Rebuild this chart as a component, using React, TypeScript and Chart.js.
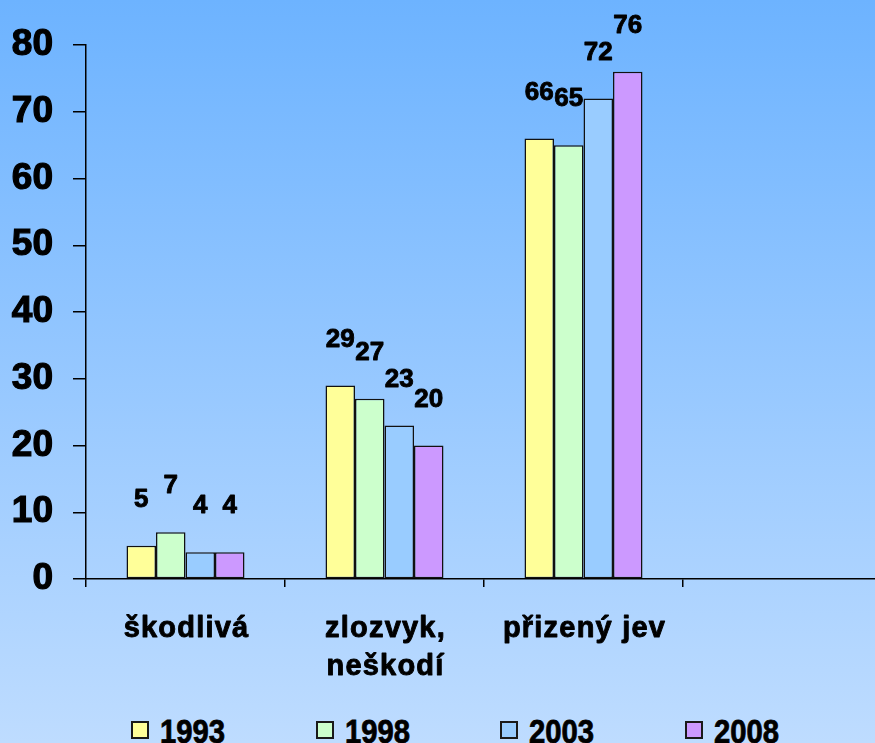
import React, { useEffect, useRef } from "react";
import { Chart, registerables } from "chart.js";

Chart.register(...registerables);

const categories: string[][] = [["škodlivá"], ["zlozvyk,", "neškodí"], ["přizený jev"], [""]];
const seriesNames = ["1993", "1998", "2003", "2008"];
const values1993 = [5, 29, 66, null];
const values1998 = [7, 27, 65, null];
const values2003 = [4, 23, 72, null];
const values2008 = [4, 20, 76, null];
const seriesColors = ["#ffff99", "#ccffcc", "#99ccff", "#cc99ff"];
const yTicks = [0, 10, 20, 30, 40, 50, 60, 70, 80];

const FONT = "'Liberation Sans', Arial, Helvetica, sans-serif";

const dataLabelPlugin = {
  id: "dataLabels",
  afterDatasetsDraw(chart: any) {
    const ctx = chart.ctx;
    ctx.save();
    ctx.font = `bold 26px ${FONT}`;
    ctx.fillStyle = "#000";
    ctx.strokeStyle = "#000";
    ctx.lineWidth = 0.9;
    ctx.lineJoin = "round";
    ctx.textAlign = "center";
    ctx.textBaseline = "middle";
    chart.data.datasets.forEach((ds: any, di: number) => {
      const meta = chart.getDatasetMeta(di);
      meta.data.forEach((el: any, i: number) => {
        const v = ds.data[i];
        if (v === null || v === undefined) return;
        ctx.strokeText(String(v), el.x, el.y - 46);
        ctx.fillText(String(v), el.x, el.y - 46);
      });
    });
    ctx.restore();
  },
};

const categoryLabelPlugin = {
  id: "categoryLabels",
  afterDraw(chart: any) {
    const ctx = chart.ctx;
    const xs = chart.scales.x;
    ctx.save();
    ctx.font = `bold 29px ${FONT}`;
    (ctx as any).letterSpacing = "1.2px";
    ctx.fillStyle = "#000";
    ctx.strokeStyle = "#000";
    ctx.lineWidth = 0.9;
    ctx.lineJoin = "round";
    ctx.textAlign = "center";
    ctx.textBaseline = "alphabetic";
    categories.forEach((lines, i) => {
      const x = xs.getPixelForValue(i) + 1;
      lines.forEach((line, j) => {
        const y = xs.top + 58 + j * 38;
        ctx.strokeText(line, x, y);
        ctx.fillText(line, x, y);
      });
    });
    ctx.restore();
  },
};

export default function App() {
  const canvasRef = useRef<HTMLCanvasElement | null>(null);

  useEffect(() => {
    if (!canvasRef.current) return;
    const series = [values1993, values1998, values2003, values2008];
    const chart = new Chart(canvasRef.current, {
      type: "bar",
      data: {
        labels: categories.map((c) => c.join(" ")),
        datasets: series.map((vals, i) => ({
          label: seriesNames[i],
          data: vals,
          backgroundColor: seriesColors[i],
          borderColor: "#111",
          borderWidth: 1.5,
          borderSkipped: false,
          categoryPercentage: 0.593,
          barPercentage: 1,
        })),
      },
      options: {
        responsive: false,
        animation: false,
        events: [],
        layout: { padding: { top: 45, right: 8, left: 0, bottom: 0 } },
        plugins: {
          legend: { display: false },
          tooltip: { enabled: false },
        },
        scales: {
          x: {
            grid: {
              display: true,
              drawOnChartArea: false,
              drawTicks: true,
              tickLength: 8,
              color: "#000",
              lineWidth: 1.5,
              offset: true,
            },
            border: { display: true, color: "#000", width: 1.5 },
            ticks: { display: false },
            afterFit(scale: any) {
              scale.height = 121;
            },
          },
          y: {
            min: 0,
            max: 80,
            afterBuildTicks(scale: any) {
              scale.ticks = yTicks.map((v) => ({ value: v }));
            },
            grid: {
              display: true,
              drawOnChartArea: false,
              drawTicks: true,
              tickLength: 13,
              color: "#000",
              lineWidth: 1.5,
            },
            border: { display: true, color: "#000", width: 1.5 },
            ticks: {
              padding: 20,
              color: "#000",
              textStrokeColor: "#000",
              textStrokeWidth: 1.2,
              font: { family: FONT, size: 37, weight: "bold" },
            },
            afterFit(scale: any) {
              scale.width = 86;
            },
          },
        },
      },
      plugins: [dataLabelPlugin, categoryLabelPlugin],
    });
    return () => chart.destroy();
  }, []);

  return (
    <div
      style={{
        position: "fixed",
        left: 0,
        top: 0,
        width: 875,
        height: 743,
        overflow: "hidden",
        background: "linear-gradient(to bottom, #6db3ff 0%, #bedcff 100%)",
      }}
    >
      <canvas
        ref={canvasRef}
        width={890}
        height={700}
        style={{ position: "absolute", left: 0, top: 0, width: 890, height: 700 }}
      />
      <div
        style={{
          position: "absolute",
          left: 131,
          top: 714,
          display: "flex",
          whiteSpace: "nowrap",
        }}
      >
        {seriesNames.map((name, i) => (
          <div key={name} style={{ width: 184.5, display: "flex", alignItems: "flex-start" }}>
            <div
              style={{
                width: 18,
                height: 18,
                boxSizing: "border-box",
                marginTop: 7,
                border: "2px solid #1a1a1a",
                background: seriesColors[i],
                flex: "none",
              }}
            />
            <div
              style={{
                marginLeft: 11,
                font: `bold 34px ${FONT}`,
                lineHeight: "34px",
                color: "#000",
                WebkitTextStroke: "0.8px #000",
                transform: "scaleX(0.86)",
                transformOrigin: "left center",
              }}
            >
              {name}
            </div>
          </div>
        ))}
      </div>
    </div>
  );
}
